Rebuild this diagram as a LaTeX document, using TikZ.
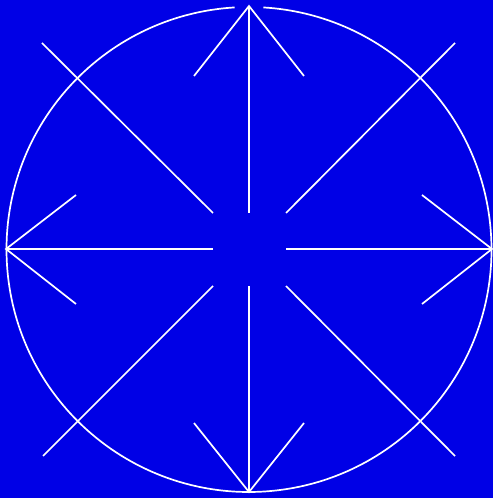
\documentclass[tikz,border=0pt]{standalone}
\usepackage{tikz}
\definecolor{bg}{RGB}{0,0,230}
\begin{document}
\begin{tikzpicture}[x=1pt,y=1pt,line width=1.7pt,
  ln/.style={draw=white,line cap=butt}]
\fill[bg] (0,0) rectangle (493,498);
\useasboundingbox (0,0) rectangle (493,498);
\coordinate (c) at (249,248.5);
% circle with a gap at top
\draw[ln] ([shift={(93.4:242.5)}]c) arc[start angle=93.4,end angle=446.6,radius=242.5];
% apexes
\coordinate (T) at (249,492);
\coordinate (B) at (249,6);
\coordinate (L) at (6,249);
\coordinate (R) at (492,249);
% inner ends
\coordinate (Ti) at (249,285);
\coordinate (Bi) at (249,212);
\coordinate (Li) at (213,249);
\coordinate (Ri) at (286,249);
% arrow wings
\coordinate (Tw1) at (194,422); \coordinate (Tw2) at (304,422);
\coordinate (Bw1) at (194,75);  \coordinate (Bw2) at (304,75);
\coordinate (Lw1) at (76,303);  \coordinate (Lw2) at (76,194);
\coordinate (Rw1) at (422,303); \coordinate (Rw2) at (422,194);
% diagonals
\coordinate (D1o) at (42,455);  \coordinate (D1i) at (213,285);
\coordinate (D2o) at (455,455); \coordinate (D2i) at (286,285);
\coordinate (D3o) at (43,42);   \coordinate (D3i) at (213,212);
\coordinate (D4o) at (455,42);  \coordinate (D4i) at (286,212);
\draw[ln] (T) -- (Ti); \draw[ln] (B) -- (Bi);
\draw[ln] (L) -- (Li); \draw[ln] (R) -- (Ri);
\draw[ln,line join=miter] (Tw1) -- (T) -- (Tw2);
\draw[ln,line join=miter] (Bw1) -- (B) -- (Bw2);
\draw[ln,line join=miter] (Lw1) -- (L) -- (Lw2);
\draw[ln,line join=miter] (Rw1) -- (R) -- (Rw2);
\draw[ln] (D1o) -- (D1i); \draw[ln] (D2o) -- (D2i);
\draw[ln] (D3o) -- (D3i); \draw[ln] (D4o) -- (D4i);
\end{tikzpicture}
\end{document}
